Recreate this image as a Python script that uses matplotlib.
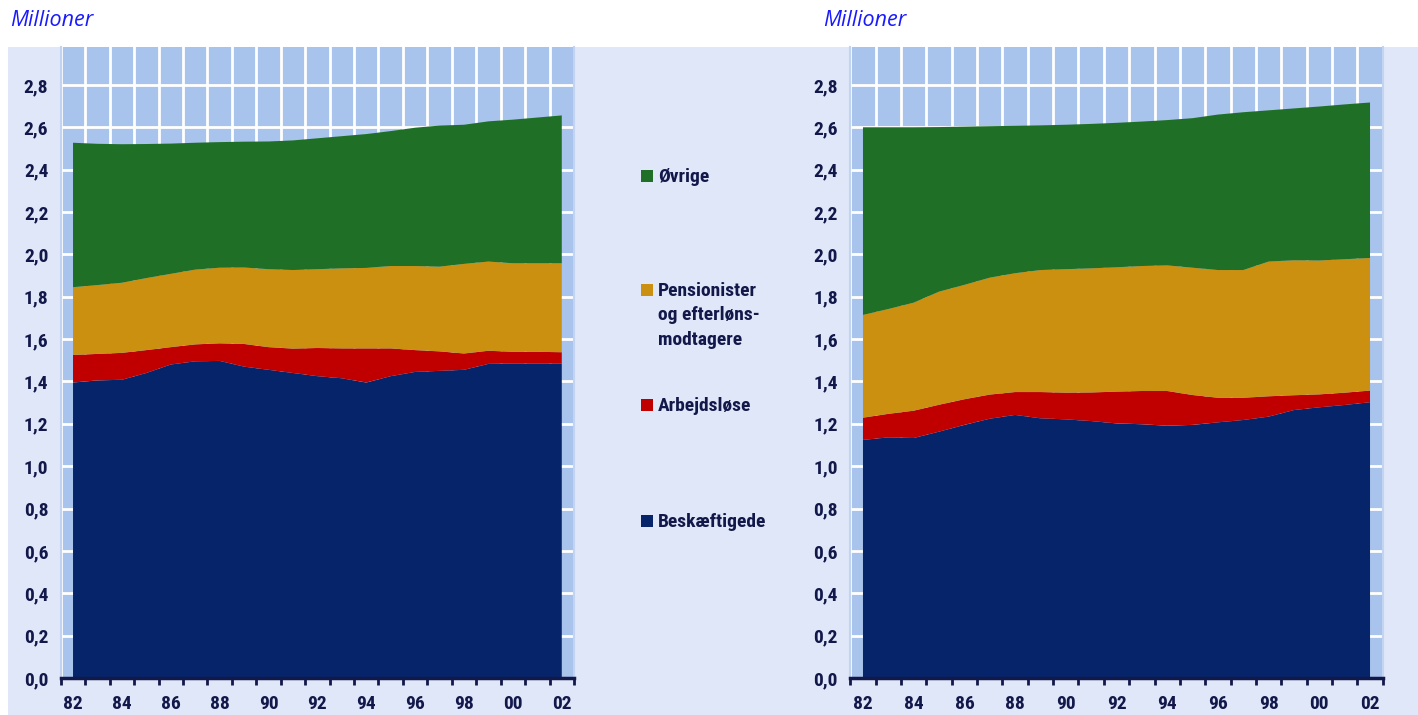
import matplotlib
matplotlib.use("Agg")
import matplotlib.pyplot as plt
import numpy as np
from matplotlib.patches import Rectangle
from matplotlib import font_manager

years = list(range(1982, 2003))
xlabels = ["82", "84", "86", "88", "90", "92", "94", "96", "98", "00", "02"]
ylabels = ["0,0", "0,2", "0,4", "0,6", "0,8", "1,0", "1,2", "1,4", "1,6", "1,8", "2,0", "2,2", "2,4", "2,6", "2,8"]
series_names = ["Øvrige", "Pensionister\nog efterløns-\nmodtagere", "Arbejdsløse", "Beskæftigede"]

# Left panel (millions)
left_beskaeftigede = [1.395, 1.405, 1.408, 1.440, 1.480, 1.495, 1.497, 1.470, 1.455, 1.440, 1.425,
                      1.415, 1.395, 1.425, 1.445, 1.450, 1.455, 1.483, 1.485, 1.485, 1.485]
left_arbejdsloese = [0.130, 0.125, 0.127, 0.108, 0.082, 0.080, 0.083, 0.107, 0.107, 0.115, 0.133,
                     0.141, 0.161, 0.131, 0.103, 0.092, 0.077, 0.062, 0.055, 0.055, 0.053]
left_pensionister = [0.320, 0.325, 0.331, 0.340, 0.346, 0.353, 0.357, 0.361, 0.368, 0.371, 0.372,
                     0.378, 0.380, 0.389, 0.397, 0.400, 0.423, 0.421, 0.418, 0.418, 0.420]
left_oevrige = [0.682, 0.667, 0.654, 0.633, 0.615, 0.599, 0.593, 0.594, 0.603, 0.612, 0.618,
                0.624, 0.632, 0.637, 0.653, 0.666, 0.657, 0.662, 0.678, 0.688, 0.698]

# Right panel (millions)
right_beskaeftigede = [1.124, 1.136, 1.133, 1.163, 1.195, 1.224, 1.242, 1.226, 1.221, 1.213, 1.202,
                       1.198, 1.191, 1.195, 1.207, 1.218, 1.234, 1.265, 1.278, 1.289, 1.302]
right_arbejdsloese = [0.105, 0.111, 0.129, 0.127, 0.121, 0.114, 0.108, 0.124, 0.126, 0.135, 0.150,
                      0.157, 0.164, 0.141, 0.116, 0.105, 0.096, 0.070, 0.061, 0.058, 0.055]
right_pensionister = [0.485, 0.495, 0.510, 0.534, 0.540, 0.552, 0.561, 0.576, 0.583, 0.586, 0.587,
                      0.590, 0.593, 0.601, 0.603, 0.603, 0.636, 0.637, 0.632, 0.630, 0.626]
right_oevrige = [0.886, 0.858, 0.828, 0.777, 0.747, 0.715, 0.696, 0.683, 0.682, 0.682, 0.682,
                 0.682, 0.686, 0.706, 0.734, 0.745, 0.714, 0.717, 0.727, 0.731, 0.734]

C_GREEN = "#1f7026"
C_GOLD = "#cc9010"
C_RED = "#c00000"
C_NAVY = "#05246a"
C_PLOT = "#a8c3ec"
C_BG = "#dfe7f8"
C_TEXT = "#12184a"
C_TITLE = "#1a1aff"

# pick a condensed bold font if one is installed
_names = {f.name for f in font_manager.fontManager.ttflist}
_condensed = [f for f in font_manager.fontManager.ttflist
              if f.stretch in ("condensed", "semi-condensed", "extra-condensed", 400, 300)]
FONT_KW = dict(family=["DejaVu Sans"], fontsize=11.5)
for cand in ["Liberation Sans Narrow", "Roboto Condensed", "Open Sans Condensed",
             "Noto Sans Condensed", "DejaVu Sans Condensed"]:
    if cand in _names:
        FONT_KW = dict(family=[cand, "DejaVu Sans"], fontsize=14.0)
        break
else:
    dj = [f for f in _condensed if f.name == "DejaVu Sans"]
    if dj:
        FONT_KW = dict(family=["DejaVu Sans"], fontsize=13.0, fontstretch="condensed")

W, H = 1418, 715
fig = plt.figure(figsize=(W / 100, H / 100), dpi=100)
fig.patch.set_facecolor("white")
fig.patches.append(Rectangle((8 / W, 0), 1 - 8 / W, 1 - 47 / H, transform=fig.transFigure,
                             facecolor=C_BG, edgecolor="none", zorder=-10))


def style_text(t):
    t.set_fontfamily(FONT_KW["family"])
    t.set_fontsize(FONT_KW["fontsize"])
    if "fontstretch" in FONT_KW:
        t.set_fontstretch(FONT_KW["fontstretch"])
    t.set_fontweight("bold")
    t.set_color(C_TEXT)


def make_panel(rect, data):
    ax = fig.add_axes(rect)
    ax.set_facecolor(C_PLOT)
    ax.set_axisbelow(True)
    ax.stackplot(years, *data, colors=[C_NAVY, C_RED, C_GOLD, C_GREEN], linewidth=0, zorder=3)
    ax.set_xlim(1981.5, 2002.5)
    ax.set_ylim(0, 2.979)
    ax.set_xticks(range(1982, 2003, 2))
    ax.set_xticklabels(xlabels)
    ax.set_xticks(np.arange(1981.5, 2003, 1.0), minor=True)
    ax.set_yticks(np.arange(0, 2.81, 0.2))
    ax.set_yticklabels(ylabels)
    ax.tick_params(axis="x", which="major", length=0, pad=12)
    ax.tick_params(axis="x", which="minor", length=5, width=2, color=C_TEXT, direction="out")
    ax.tick_params(axis="y", which="both", length=0, pad=9)
    for lab in ax.get_xticklabels() + ax.get_yticklabels():
        style_text(lab)
    ax.grid(axis="x", which="minor", color="white", linewidth=2)
    ax.grid(axis="y", which="major", color="white", linewidth=2)
    for s in ["left", "right"]:
        ax.spines[s].set_color("#c3d4f2")
        ax.spines[s].set_linewidth(1.5)
    ax.spines["top"].set_visible(False)
    ax.spines["bottom"].set_color(C_TEXT)
    ax.spines["bottom"].set_linewidth(2.5)
    ax.spines["bottom"].set_zorder(5)
    return ax


make_panel([60.8 / W, 1 - 678 / H, (574 - 60.8) / W, (678 - 47) / H],
           [left_beskaeftigede, left_arbejdsloese, left_pensionister, left_oevrige])
make_panel([850.3 / W, 1 - 678 / H, (1382.7 - 850.3) / W, (678 - 47) / H],
           [right_beskaeftigede, right_arbejdsloese, right_pensionister, right_oevrige])

for x in (10, 823):
    fig.text(x / W, 1 - 20 / H, "Millioner", fontsize=15.5, style="italic",
             color=C_TITLE, va="center", ha="left", family=["Open Sans", "DejaVu Sans"])

legend_colors = [C_GREEN, C_GOLD, C_RED, C_NAVY]
legend_y = [176, 290, 405, 521]
for name, col, yy in zip(series_names, legend_colors, legend_y):
    fig.patches.append(Rectangle((641 / W, 1 - (yy + 6) / H), 12 / W, 12 / H,
                                 transform=fig.transFigure, facecolor=col, edgecolor="none"))
    t = fig.text(658 / W, 1 - (yy - 8) / H, name, va="top", ha="left", linespacing=1.45)
    style_text(t)

fig.savefig("out.png", dpi=100)
